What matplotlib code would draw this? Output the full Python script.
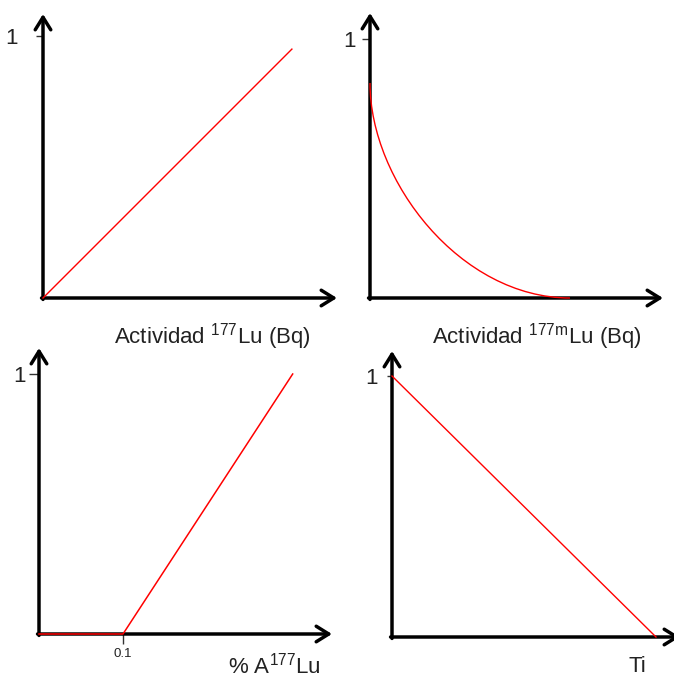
import matplotlib
matplotlib.use("Agg")
import matplotlib.pyplot as plt
from matplotlib.path import Path
from matplotlib.patches import PathPatch

plt.rcParams["font.family"] = ["Liberation Sans", "DejaVu Sans"]
plt.rcParams["mathtext.fontset"] = "custom"
plt.rcParams["mathtext.rm"] = "Liberation Sans"
plt.rcParams["mathtext.it"] = "Liberation Sans"

# ---- data -------------------------------------------------------------
# Panel A: response vs 177Lu activity (linear)
act_lu_x = [0.0, 0.95]
act_lu_y = [0.0, 0.95]

# Panel B: response vs 177mLu activity, a smooth decreasing curve given as
# start point, two control handles and end point of a cubic Bezier
act_lum_x = [0.0, 0.0, 0.35, 0.772]
act_lum_y = [0.83, 0.45, 0.0, 0.0]

# Panel C: response vs % activity of 177Lu (zero up to threshold 0.1)
pct_x = [0.0, 0.1, 0.302]
pct_y = [0.0, 0.0, 1.0]
pct_ticks = [0.1]
pct_ticklabels = ["0.1"]

# Panel D: response vs Ti (linear decrease)
ti_x = [0.0, 1.0]
ti_y = [1.0, 0.0]

W, H = 674, 679
fig = plt.figure(figsize=(W / 100, H / 100), dpi=100)


def px_axes(x0, y0, x1, y1):
    """Axes whose origin is at pixel (x0, y0) and whose far corner is at (x1, y1)."""
    return fig.add_axes([x0 / W, 1 - y0 / H, (x1 - x0) / W, (y0 - y1) / H])


def arrow_axes(ax, xlim, ylim, pad, ticklen):
    ax.set_xlim(0, xlim)
    ax.set_ylim(0, ylim)
    for s in ax.spines.values():
        s.set_visible(False)
    ax.set_yticks([1])
    ax.set_yticklabels(["1"])
    ax.set_xticks([])
    ax.tick_params(axis="y", length=ticklen, width=1.0, color="#333333",
                   labelsize=16, labelcolor="#222222", pad=pad)
    ax.patch.set_alpha(0)
    style = "->,head_length=0.45,head_width=0.28"
    ax.annotate("", xy=(1, 0), xytext=(-0.005, 0), xycoords="axes fraction",
                arrowprops=dict(arrowstyle=style, lw=2.5, color="black",
                                shrinkA=0, shrinkB=0, mutation_scale=20))
    ax.annotate("", xy=(0, 1), xytext=(0, -0.005), xycoords="axes fraction",
                arrowprops=dict(arrowstyle=style, lw=2.5, color="black",
                                shrinkA=0, shrinkB=0, mutation_scale=20))


def label(x, y, s, size=16):
    fig.text(x / W, 1 - y / H, s, ha="center", va="center", fontsize=size,
             color="#222222")


red = "#ff0000"

# Panel A
ax1 = px_axes(43, 298, 337, 14)
arrow_axes(ax1, 294 / 262, 284 / 262, pad=13, ticklen=5)
ax1.plot(act_lu_x, act_lu_y, color=red, lw=1.0, clip_on=False, zorder=3)
label(212, 337, r"Actividad $\mathregular{^{177}}$Lu (Bq)")

# Panel B
ax2 = px_axes(370, 298, 663, 13)
arrow_axes(ax2, 293 / 259, 285 / 259, pad=4.3, ticklen=5.8)
decay_path = Path(list(zip(act_lum_x, act_lum_y)),
                  [Path.MOVETO, Path.CURVE4, Path.CURVE4, Path.CURVE4])
ax2.add_patch(PathPatch(decay_path, facecolor="none", edgecolor=red, lw=1.0,
                        clip_on=False, zorder=3))
label(537, 337, r"Actividad $\mathregular{^{177m}}$Lu (Bq)")

# Panel C
ax3 = px_axes(39, 634, 332, 348)
arrow_axes(ax3, 293 / 840, 286 / 260, pad=2.2, ticklen=7)
ax3.set_xticks(pct_ticks)
ax3.set_xticklabels(pct_ticklabels)
ax3.tick_params(axis="x", length=7, width=1.0, color="#333333",
                labelsize=9.5, labelcolor="#222222", pad=3)
ax3.plot(pct_x, pct_y, color=red, lw=1.1, clip_on=False, zorder=3)
label(274, 666, r"% A$\mathregular{^{177}}$Lu")

# Panel D
ax4 = px_axes(392, 637, 680, 351)
arrow_axes(ax4, 288 / 264, 286 / 261, pad=6.5, ticklen=3.6)
ax4.plot(ti_x, ti_y, color=red, lw=1.0, clip_on=False, zorder=3)
label(637, 667, "Ti")

fig.savefig("out.png", dpi=100, facecolor="white")
